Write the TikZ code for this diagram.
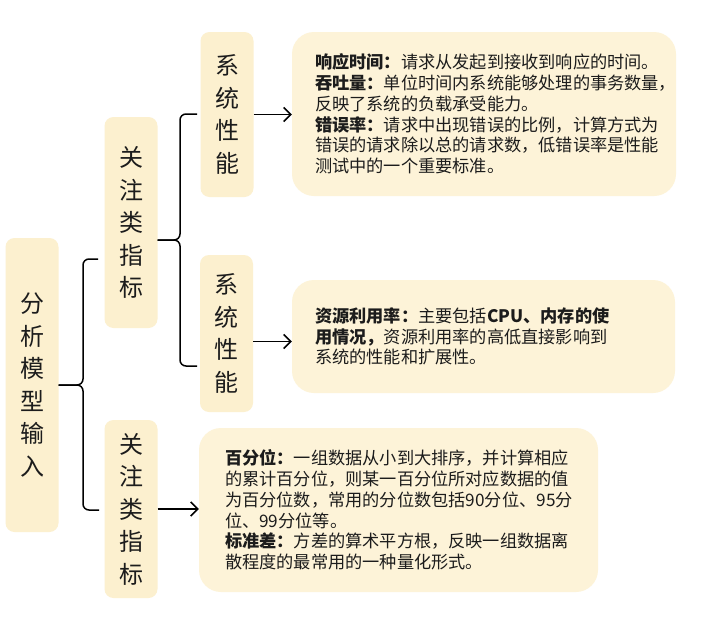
\documentclass[tikz,border=0pt]{standalone}
\usepackage{fontspec}
\usepackage{tikz}
\usetikzlibrary{arrows.meta}
\newfontfamily\cjk{Noto Sans CJK SC}
\definecolor{tagfill}{RGB}{252,240,207}
\definecolor{notefill}{RGB}{253,243,216}
\definecolor{inkgray}{RGB}{28,28,28}

\begin{document}
\begin{tikzpicture}[x=1pt, y=-1pt,
    tag/.style={rectangle, rounded corners=9pt, fill=tagfill, inner sep=0pt,
        minimum width=53pt, align=center, text=inkgray,
        font=\cjk\fontsize{24}{32.5}\selectfont},
    note/.style={rectangle, rounded corners=22pt, fill=notefill, inner ysep=0pt,
        align=left, text=inkgray, font=\cjk\fontsize{17.2}{20.8}\selectfont},
    bracket/.style={line width=1.5pt, rounded corners=6pt},
    arrow/.style={-{Straight Barb[length=7pt, width=14pt]}, line width=1.5pt}
]
\fill[white] (0,0) rectangle (713,632);
\useasboundingbox (0,0) rectangle (713,632);

\node[tag, minimum height=294pt] (root)   at (32,385)    {分\\析\\模\\型\\输\\入};
\node[tag, minimum height=211pt] (focus1) at (131,222.5) {关\\注\\类\\指\\标};
\node[tag, minimum height=178pt] (focus2) at (131,509)   {关\\注\\类\\指\\标};
\node[tag, minimum height=165pt] (sys1)   at (227,114.5) {系\\统\\性\\能};
\node[tag, minimum height=157pt] (sys2)   at (226.5,333.5) {系\\统\\性\\能};

\node[note, minimum width=384pt, minimum height=164pt, text width=338pt, inner xsep=23pt] (perf) at (484,114) {%
\textbf{响应时间：}请求从发起到接收到响应的时间。\\
\textbf{吞吐量：}单位时间内系统能够处理的事务数量，\\
反映了系统的负载承受能力。\\
\textbf{错误率：}请求中出现错误的比例，计算方式为\\
错误的请求除以总的请求数，低错误率是性能\\
测试中的一个重要标准。};
\node[note, minimum width=383pt, minimum height=113pt, text width=337pt, inner xsep=23pt] (res) at (483.5,336.5) {%
\textbf{资源利用率：}主要包括\textbf{CPU、内存的使}\\
\textbf{用情况，}资源利用率的高低直接影响到\\
系统的性能和扩展性。};
\node[note, minimum width=399pt, minimum height=164pt, text width=347pt, inner xsep=26pt] (stats) at (398.5,510) {%
\textbf{百分位：}一组数据从小到大排序，并计算相应\\
的累计百分位，则某一百分位所对应数据的值\\
为百分位数，常用的分位数包括90分位、95分\\
位、99分位等。\\
\textbf{标准差：}方差的算术平方根，反映一组数据离\\
散程度的最常用的一种量化形式。};

\coordinate (rtop) at (98,259);
\coordinate (rbot) at (99,510);
\coordinate (rmid) at (83,385);
\coordinate (ftop) at (197,114);
\coordinate (fbot) at (197,366);
\coordinate (fmid) at (180,240);

\draw[bracket] (rtop) -| (rmid) -- (root.east);
\draw[bracket] (rbot) -| (rmid) -- (root.east);
\draw[bracket] (ftop) -| (fmid) -- (focus1.east |- fmid);
\draw[bracket] (fbot) -| (fmid) -- (focus1.east |- fmid);

\draw[arrow] (sys1.east) -- (sys1.east -| perf.west);
\draw[arrow] ([yshift=-8pt]sys2.east) -- ([yshift=-8pt]sys2.east -| res.west);
\draw[arrow] (focus2.east) -- (focus2.east -| stats.west);
\end{tikzpicture}
\end{document}
